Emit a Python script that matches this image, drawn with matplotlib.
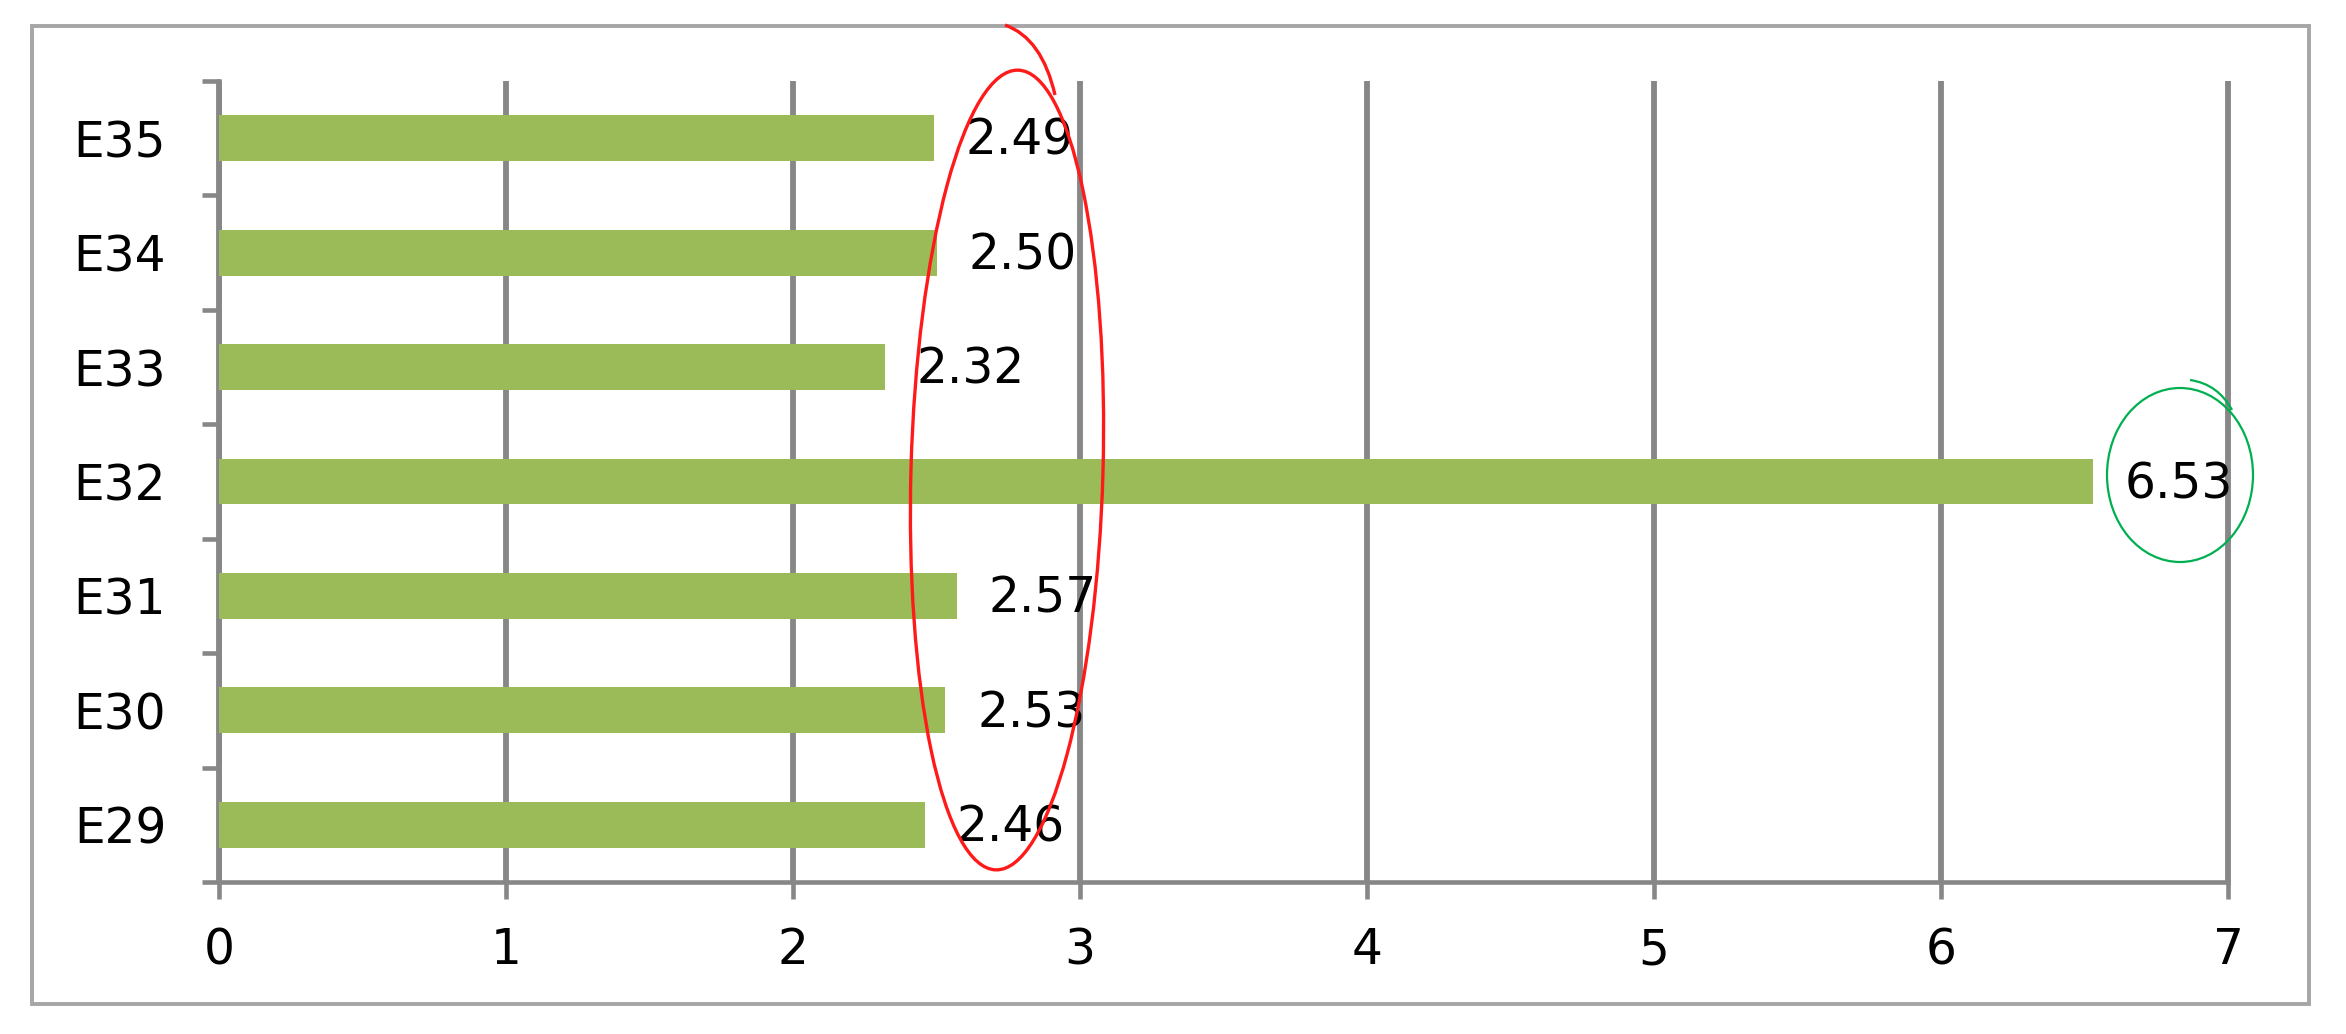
import matplotlib
matplotlib.use("Agg")
import matplotlib.pyplot as plt
from matplotlib.patches import Ellipse, Rectangle, PathPatch
from matplotlib.path import Path

# datos (de abajo hacia arriba)
categorias = ["E29", "E30", "E31", "E32", "E33", "E34", "E35"]
valores = [2.46, 2.53, 2.57, 6.53, 2.32, 2.50, 2.49]
etiquetas = ["2.46", "2.53", "2.57", "6.53", "2.32", "2.50", "2.49"]
ticks_x = [0, 1, 2, 3, 4, 5, 6, 7]

W, H = 2346, 1034
fig = plt.figure(figsize=(W / 100, H / 100), dpi=100)
plt.rcParams['font.family'] = ['DejaVu Sans']

gris = "#878787"
verde = "#9BBB59"
fs = 35

# ejes en pixeles de la imagen
x0, x1 = 219, 2228
y_top, y_bot = 81, 882
ax = fig.add_axes([x0 / W, (H - y_bot) / H, (x1 - x0) / W, (y_bot - y_top) / H])

pos = list(range(len(categorias)))
ax.barh(pos, valores, height=0.4, color=verde, zorder=3)

for p, v, t in zip(pos, valores, etiquetas):
    ax.annotate(t, (v, p), xytext=(23, -2), textcoords="offset points",
                va="center", ha="left", fontsize=fs, color="black", zorder=5)

ax.set_xlim(0, 7)
ax.set_ylim(-0.5, 6.5)
ax.set_xticks(ticks_x)
ax.set_xticklabels([str(t) for t in ticks_x])
ax.set_yticks(pos)
ax.set_yticklabels(categorias)
ax.set_yticks([p - 0.5 for p in pos] + [6.5], minor=True)

ax.grid(axis="x", color=gris, linewidth=4.2, zorder=1, solid_capstyle="butt")
for g in ax.xaxis.get_gridlines():
    g.set_clip_on(False)
ax.set_axisbelow(True)
for lado in ["top", "right"]:
    ax.spines[lado].set_visible(False)
for lado in ["left", "bottom"]:
    ax.spines[lado].set_color(gris)
    ax.spines[lado].set_linewidth(3.3)

ax.tick_params(axis="x", length=12, width=3.3, color=gris, labelsize=fs, pad=20)
ax.tick_params(axis="y", which="major", length=0, labelsize=fs, pad=38)
ax.tick_params(axis="y", which="minor", length=12, width=3.3, color=gris)

# marco exterior
fig.patches.append(Rectangle((32 / W, (H - 1004) / H), (2309 - 32) / W, (1004 - 26) / H,
                             transform=fig.transFigure, fill=False,
                             edgecolor="#A6A6A6", linewidth=2.8))

# marcas a mano (en pixeles de la imagen)
tr = fig.dpi_scale_trans
def px(x, y):
    return (x / 100, (H - y) / 100)

rojo = "#FF1A1A"
fig.patches.append(Ellipse(px(1007, 470), 192 / 100, 800 / 100, angle=-1.6,
                           transform=tr, fill=False, edgecolor=rojo, linewidth=2.4, zorder=10))
cola = Path([px(1055, 95), px(1042, 38), px(1005, 25)], [Path.MOVETO, Path.CURVE3, Path.CURVE3])
fig.patches.append(PathPatch(cola, transform=tr, fill=False, edgecolor=rojo, linewidth=2.4, zorder=10))

verde_c = "#00B050"
fig.patches.append(Ellipse(px(2180, 475), 146 / 100, 174 / 100,
                           transform=tr, fill=False, edgecolor=verde_c, linewidth=1.6, zorder=10))
gancho = Path([px(2232, 410), px(2218, 384), px(2190, 380)], [Path.MOVETO, Path.CURVE3, Path.CURVE3])
fig.patches.append(PathPatch(gancho, transform=tr, fill=False, edgecolor=verde_c, linewidth=1.6, zorder=10))

fig.savefig("out.png", dpi=100)
